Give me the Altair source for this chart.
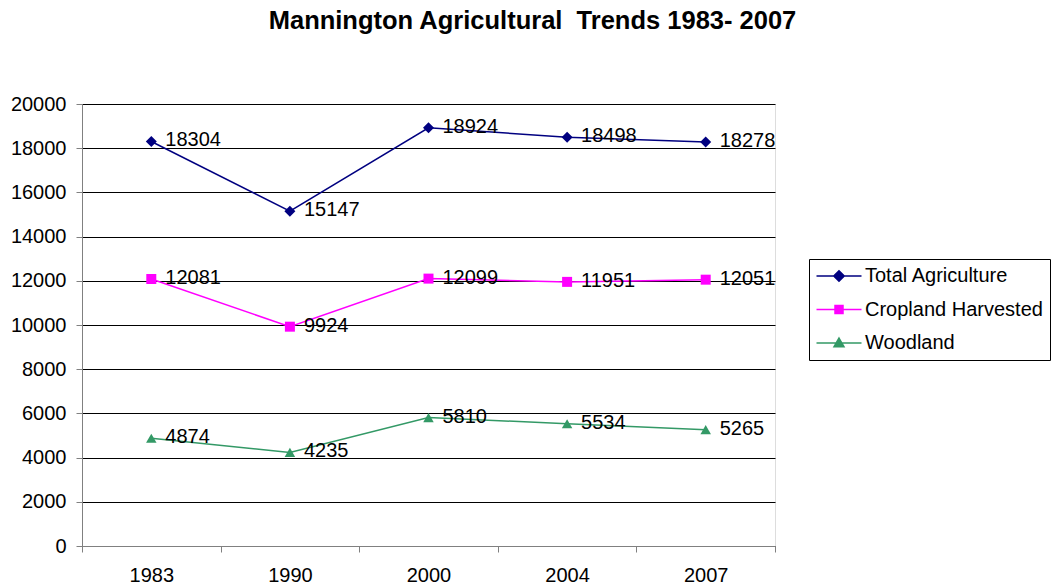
import altair as alt
import pandas as pd

years = ["1983", "1990", "2000", "2004", "2007"]
series_names = ["Total Agriculture", "Cropland Harvested", "Woodland"]
total_agriculture = [18304, 15147, 18924, 18498, 18278]
cropland_harvested = [12081, 9924, 12099, 11951, 12051]
woodland = [4874, 4235, 5810, 5534, 5265]

colors = ["#000080", "#FF00FF", "#339966"]
shapes = ["diamond", "square", "triangle-up"]
marker_sizes = [121, 100, 110]

# legend symbols: a short line with the series marker on it
legend_shapes = [
    "M-4.5,0H4.5M0,-1.05L1.05,0L0,1.05L-1.05,0Z",
    "M-4.5,0H4.5M-0.8,-0.8H0.8V0.8H-0.8Z",
    "M-4.5,0H4.5M0,-1L1,0.75H-1Z",
]

rows = []
for name, vals in zip(series_names, [total_agriculture, cropland_harvested, woodland]):
    for yr, v in zip(years, vals):
        rows.append({"Year": yr, "Series": name, "Acres": v})
df = pd.DataFrame(rows)

FONT = "Liberation Sans"
FS = 20
color_scale = alt.Scale(domain=series_names, range=colors)

x_enc = alt.X(
    "Year:O",
    sort=years,
    scale=alt.Scale(type="band", paddingInner=0, paddingOuter=0),
    axis=alt.Axis(
        title=None, labelAngle=0, labelFont=FONT, labelFontSize=FS, labelColor="black",
        labelPadding=13, tickBand="extent", tickSize=6, tickColor="#808080",
        domainColor="#808080", grid=False,
    ),
)
y_enc = alt.Y(
    "Acres:Q",
    scale=alt.Scale(domain=[0, 20000], nice=False),
    axis=alt.Axis(
        title=None, values=list(range(0, 20001, 2000)), format="d",
        labelFont=FONT, labelFontSize=FS, labelColor="black", labelPadding=10,
        tickSize=6, tickColor="#808080", domainColor="#808080",
        grid=True, gridColor="black", gridWidth=1,
    ),
)

legend_def = alt.Legend(
    title=None, orient="none", legendX=727, legendY=155,
    labelFont=FONT, labelFontSize=20, labelColor="black", labelLimit=300,
    symbolSize=100, symbolOffset=13, labelOffset=16, rowPadding=13.5,
    symbolStrokeWidth=1.5, symbolOpacity=1,
    padding=7, strokeColor="black", fillColor="white",
)
color_enc = alt.Color("Series:N", scale=color_scale, legend=legend_def)

base = alt.Chart(df).encode(x=x_enc, y=y_enc)

lines = base.mark_line(strokeWidth=1.5).encode(color=color_enc)

# one marker layer per series, each with its own marker shape
marker_layers = [
    base.transform_filter(alt.datum.Series == name)
    .mark_point(filled=True, opacity=1, size=sz, shape=shp)
    .encode(color=color_enc)
    for name, shp, sz in zip(series_names, shapes, marker_sizes)
]

labels = base.mark_text(
    align="left", baseline="middle", dx=14, dy=-1, font=FONT, fontSize=FS, color="black"
).encode(text="Acres:Q")

# empty layer that only carries the line-and-marker legend symbols
legend_layer = (
    alt.Chart(df)
    .transform_filter("false")
    .mark_point(size=100, opacity=1, strokeWidth=1.5)
    .encode(
        x=x_enc,
        y=y_enc,
        color=color_enc,
        fill=alt.Fill("Series:N", scale=color_scale, legend=legend_def),
        shape=alt.Shape("Series:N", scale=alt.Scale(domain=series_names, range=legend_shapes),
                        legend=legend_def),
    )
)

chart = (
    alt.layer(lines, *marker_layers, labels, legend_layer)
    .properties(
        width=693,
        height=442,
        autosize=alt.AutoSizeParams(type="none"),
        padding={"left": 82, "top": 104, "right": 277, "bottom": 42},
        title=alt.TitleParams(
            "Mannington Agricultural\u00a0 Trends 1983- 2007",
            font=FONT, fontSize=25.5, fontWeight="bold", color="black",
            anchor="middle", dx=104, offset=60,
        ),
    )
    .configure_view(stroke=None)
    .configure(background="white")
)

chart.save("out.html", embed_options={"renderer": "svg", "actions": False})
